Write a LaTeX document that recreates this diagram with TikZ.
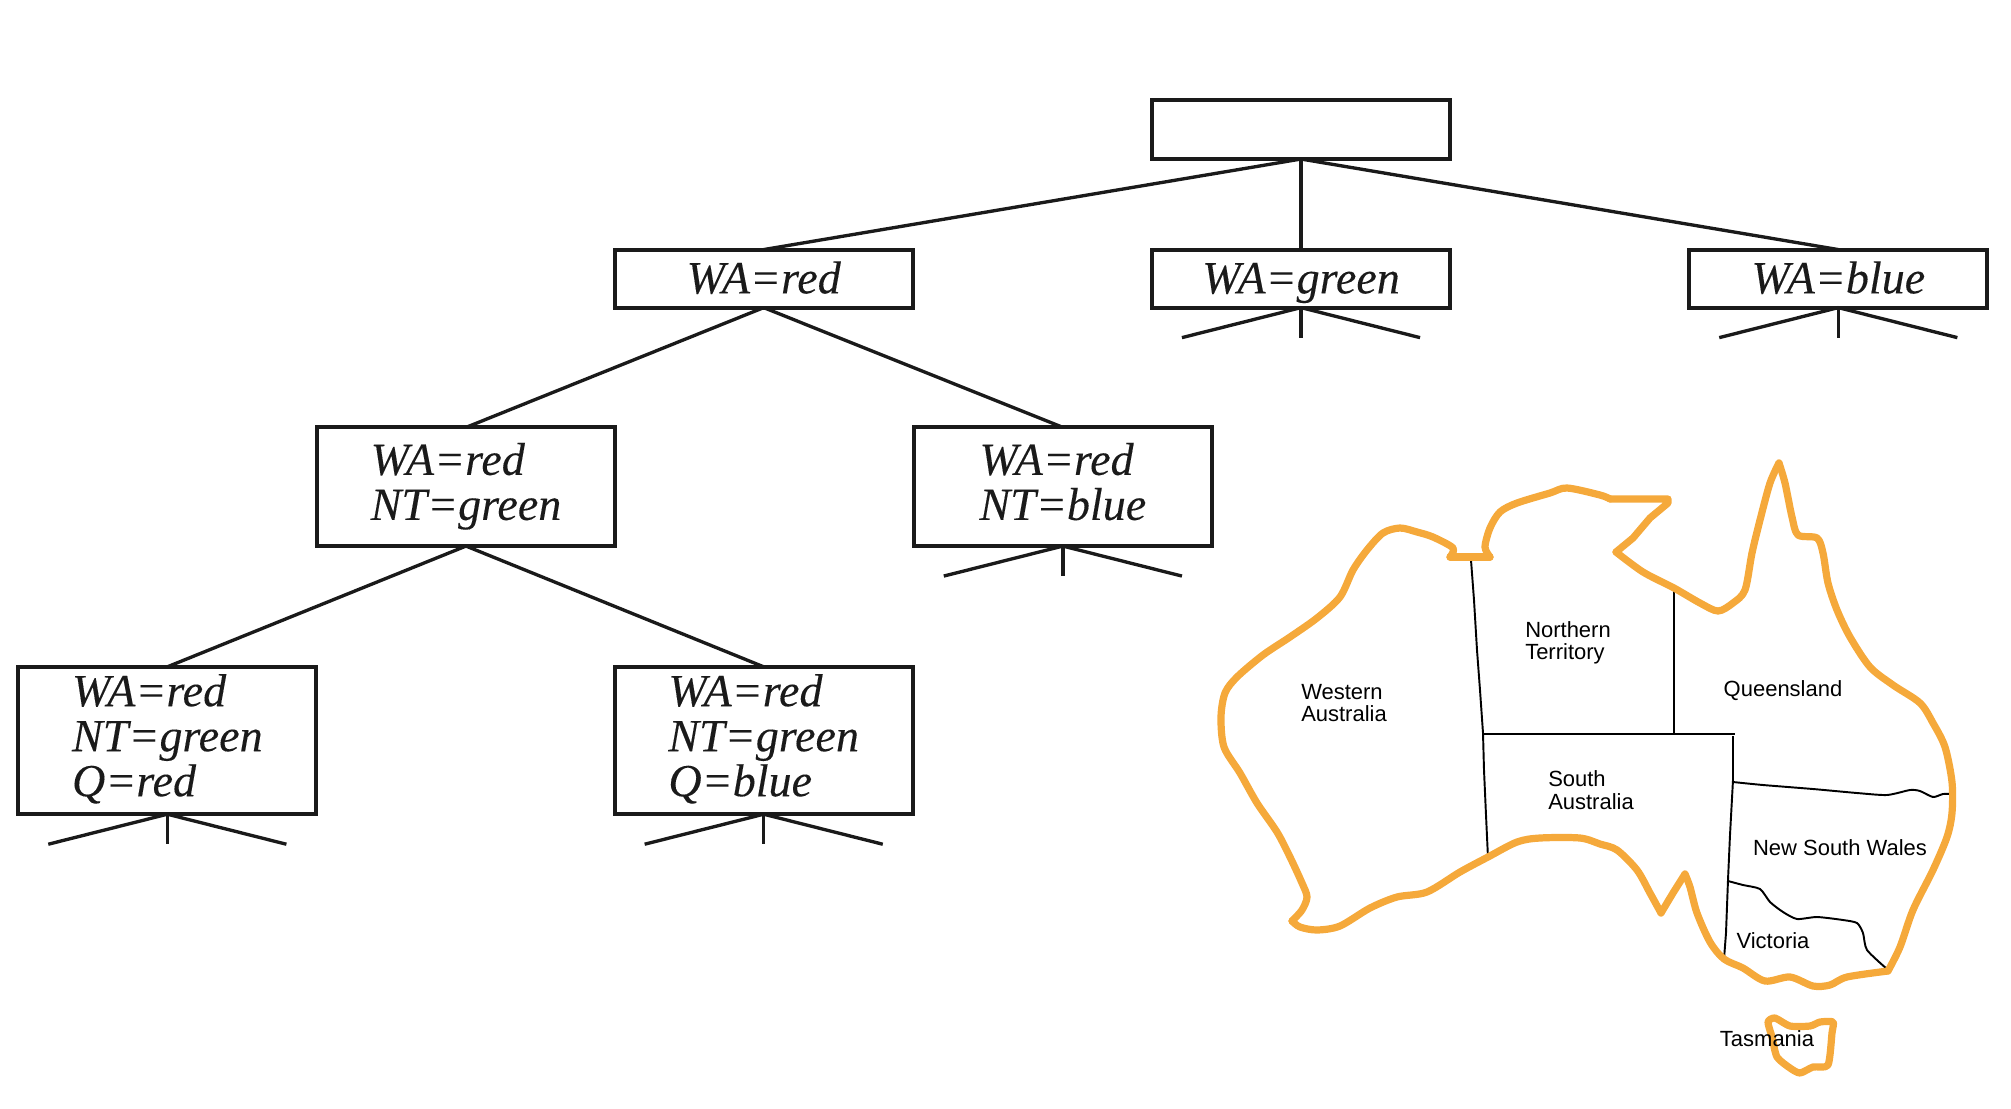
\documentclass[tikz,border=0pt]{standalone}
\usepackage{fontspec}
\setmainfont[ItalicFeatures={FakeBold=0.15}]{Liberation Serif}
\newfontfamily\mapfont{Liberation Sans}
\usetikzlibrary{positioning}
\definecolor{coastorange}{HTML}{F5A93B}
\definecolor{boxblack}{HTML}{1A1A1A}
\tikzset{
    statebox/.style={
        draw=boxblack,
        line width=1.1pt,
        minimum width=2.98cm,
        minimum height=0.58cm,
        inner sep=0pt,
        outer sep=0pt,
        align=left,
        text=boxblack,
        font=\fontsize{13.1}{12.8}\selectfont\itshape,
        execute at end node=\rule[-3pt]{0pt}{3pt}
    },
    linebox/.style={
        statebox,
        execute at begin node=\rule{0pt}{11.4pt}
    },
    tallbox/.style={
        statebox,
        execute at begin node=\vspace*{2.2pt}
    },
    treeedge/.style={
        draw=boxblack,
        line width=0.95pt
    },
    coast/.style={
        draw=coastorange,
        line width=2.05pt,
        line join=round,
        line cap=round
    },
    border/.style={
        draw=black,
        line width=0.55pt
    },
    maplabel/.style={
        align=left,
        inner sep=0pt,
        font=\fontsize{6.25}{6.4}\selectfont\mapfont
    }
}

\begin{document}
\begin{tikzpicture}[x=0.01cm,y=-0.01cm]
\useasboundingbox (0,0) rectangle (2011,1108);

% search tree nodes
\node[linebox,minimum height=0.59cm] (root) at (1301,129.5) {};
\node[linebox] (wagreen) [below=0.905cm of root] {WA=green};
\node[linebox] (wared) [left=2.39cm of wagreen] {WA=red};
\node[linebox] (wablue) [right=2.39cm of wagreen] {WA=blue};
\node[tallbox,minimum height=1.186cm] (ntgreen) [below=1.197cm of wared,xshift=-2.975cm] {WA=red\\NT=green};
\node[tallbox,minimum height=1.186cm] (ntblue) [below=1.197cm of wared,xshift=2.99cm] {WA=red\\NT=blue};
\node[tallbox,minimum height=1.473cm] (qred) [below=1.207cm of ntgreen,xshift=-2.985cm] {WA=red\\NT=green\\Q=red};
\node[tallbox,minimum height=1.473cm] (qblue) [below=1.207cm of ntgreen,xshift=2.975cm] {WA=red\\NT=green\\Q=blue};

% tree edges
\draw[treeedge] (root.south) -- (wared.north);
\draw[treeedge] (root.south) -- (wagreen.north);
\draw[treeedge] (root.south) -- (wablue.north);
\draw[treeedge] (wared.south) -- (ntgreen.north);
\draw[treeedge] (wared.south) -- (ntblue.north);
\draw[treeedge] (ntgreen.south) -- (qred.north);
\draw[treeedge] (ntgreen.south) -- (qblue.north);

% unexpanded branches
\foreach \n in {wagreen,wablue,ntblue,qred,qblue} {
    \coordinate[below left=0.3cm and 1.19cm of \n.south] (\n-l);
    \coordinate[below=0.3cm of \n.south] (\n-m);
    \coordinate[below right=0.3cm and 1.19cm of \n.south] (\n-r);
    \draw[treeedge] (\n.south) -- (\n-l);
    \draw[treeedge] (\n.south) -- (\n-m);
    \draw[treeedge] (\n.south) -- (\n-r);
}

% state borders
\draw[border] plot coordinates {(1471,560) (1474,600) (1477,650) (1480,690) (1483,733) (1484,770) (1486,815) (1488,858)};
\draw[border] (1483,734) -- (1735,734);
\draw[border] (1674,590) -- (1674,734);
\draw[border] plot coordinates {(1733,736) (1733,780) (1730,835) (1728,880) (1726,933) (1724,959)};
\draw[border] plot[smooth,tension=0.4] coordinates {(1733,782) (1763,785) (1813,789) (1857,793) (1887,795) (1910,790) (1920,791) (1933,797) (1943,794) (1952,794)};
\draw[border] plot[smooth,tension=0.4] coordinates {(1728,881) (1743,885) (1760,889) (1770,902) (1783,912) (1797,919) (1817,917) (1843,920) (1857,923) (1863,933) (1867,950) (1887,969)};

% coast
\draw[coast] plot[smooth,tension=0.5] coordinates {(1450,557) (1453,548) (1433,537) (1417,532) (1400,528) (1383,533) (1367,550) (1353,570) (1340,597) (1317,618) (1290,637) (1263,655) (1237,677) (1225,693) (1221,717) (1224,747) (1240,773) (1257,803) (1277,832) (1290,857) (1302,883) (1307,897) (1302,910) (1292,921)};
\draw[coast] plot[smooth,tension=0.5] coordinates {(1292,921) (1300,927) (1317,930) (1340,926) (1370,908) (1397,897) (1427,892) (1460,872) (1488,857) (1517,842) (1540,838) (1580,838) (1600,844) (1617,850) (1637,870) (1650,893) (1661,913)};
\draw[coast] plot[smooth,tension=0.3] coordinates {(1661,913) (1673,893) (1685,874)};
\draw[coast] plot[smooth,tension=0.5] coordinates {(1685,874) (1690,887) (1697,913) (1710,942) (1724,959) (1743,968) (1765,981) (1790,977) (1813,986) (1830,985) (1847,977) (1888,971)};
\draw[coast] plot[smooth,tension=0.5] coordinates {(1888,971) (1900,947) (1913,910) (1933,870) (1947,837) (1952,813) (1952,782) (1945,747) (1933,723) (1920,703) (1893,685) (1870,667) (1850,637) (1837,610) (1828,583) (1823,553) (1817,538) (1798,535) (1792,517) (1785,483) (1779,463)};
\draw[coast] plot[smooth,tension=0.5] coordinates {(1779,463) (1770,483) (1760,520) (1752,553) (1745,590) (1733,603) (1718,611) (1700,603) (1674,588) (1643,572) (1616,552)};
\draw[coast] (1616,552) -- (1633,538) -- (1650,518) -- (1668,503) -- (1668,499) -- (1610,499);
\draw[coast] plot[smooth,tension=0.5] coordinates {(1610,499) (1600,495) (1567,488) (1550,493) (1517,503) (1500,512) (1490,528) (1485,547) (1490,557)};
\draw[coast] (1490,557) -- (1450,557);

% tasmania
\draw[coast] plot[smooth cycle,tension=0.4] coordinates {(1768,1022) (1775,1018) (1790,1026) (1810,1026) (1820,1022) (1833,1022) (1832,1033) (1828,1065) (1813,1067) (1800,1073) (1790,1068) (1777,1057) (1772,1037)};

% state names
\node[maplabel] (western) at (1344,703) {Western\\Australia};
\node[maplabel] (northern) at (1568,643) {Northern\\Territory};
\node[maplabel] (queensland) at (1783,691) {Queensland};
\node[maplabel] (south) at (1591,790) {South\\Australia};
\node[maplabel] (nsw) at (1840,848) {New South Wales};
\node[maplabel] (victoria) at (1773,941) {Victoria};
\node[maplabel] (tasmania) at (1767,1039) {Tasmania};
\end{tikzpicture}
\end{document}
